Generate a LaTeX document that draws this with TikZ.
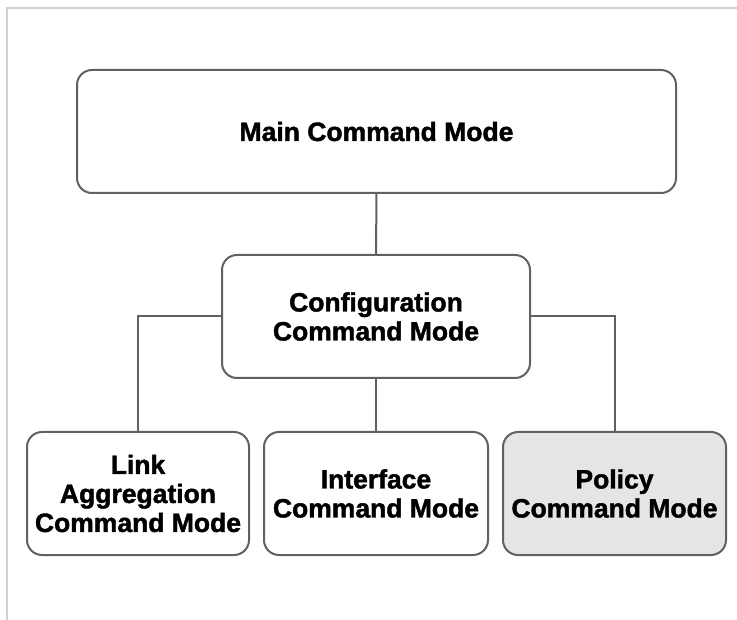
\documentclass[tikz,border=0pt]{standalone}
\usepackage{fontspec}
\setmainfont{Liberation Sans}
\newfontfamily\heavyfont{Liberation Sans Bold}[FakeBold=1.6]
\begin{document}
\begin{tikzpicture}[x=1pt,y=-1pt,
  modebox/.style={draw=black!62, line width=2pt, rounded corners=15pt, fill=white,
    align=center, font=\fontsize{26.5}{29}\heavyfont, inner sep=0pt},
  link/.style={draw=black!62, line width=2pt}]
\useasboundingbox (0,0) rectangle (737,620);
\fill[white] (0,0) rectangle (737,620);
\draw[black!18, line width=2pt] (7,620) -- (7,8) -- (737,8);
\node[modebox, minimum width=599pt, minimum height=123pt] (main) at (376.5,131.5) {Main Command Mode};
\node[modebox, minimum width=308pt, minimum height=123pt] (config) at (376,316.5) {Configuration\\Command Mode};
\node[modebox, minimum width=222pt, minimum height=123pt] (lag) at (138,493.5) {Link\\Aggregation\\Command Mode};
\node[modebox, minimum width=224pt, minimum height=123pt] (iface) at (376,493.5) {Interface\\Command Mode};
\node[modebox, fill=black!10, minimum width=223pt, minimum height=123pt] (policy) at (614.5,493.5) {Policy\\Command Mode};
\draw[link] (main.south) -- (config.north);
\draw[link] (config.south) -- (iface.north);
\draw[link] (config.west) -| (lag.north);
\draw[link] (config.east) -| (policy.north);
\end{tikzpicture}
\end{document}
